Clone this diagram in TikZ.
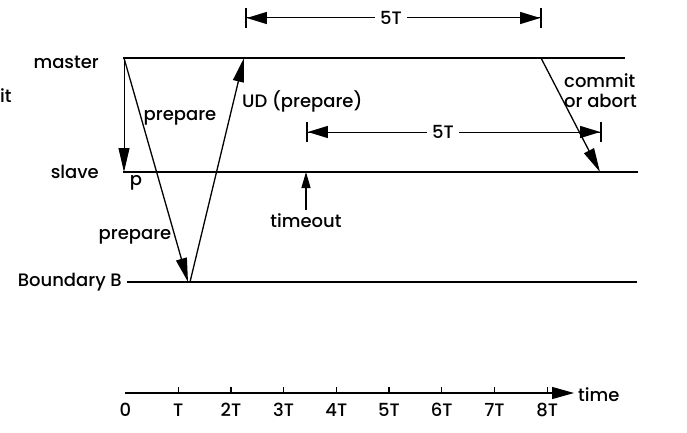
\documentclass[tikz,border=0pt]{standalone}
\usepackage{fontspec}
\setmainfont{Poppins}[UprightFont=* Medium]
\usetikzlibrary{arrows.meta}
\begin{document}
\begin{tikzpicture}[x=1pt,y=-1pt,
  lbl/.style={inner sep=0pt, font=\fontsize{18}{20}\selectfont},
  tline/.style={line width=2.2pt},
  msg/.style={line width=1.3pt, -{Triangle[length=24pt,width=11pt]}},
  dimline/.style={line width=1pt, {Bar[width=20pt,line width=1.8pt]Triangle[length=20pt,width=12pt,sep=0pt]}-{Triangle[length=20pt,width=12pt,sep=0pt]Bar[width=20pt,line width=1.8pt]}},
  dimlbl/.style={lbl, fill=white, inner xsep=5pt, inner ysep=2pt}
]
\useasboundingbox (0,0) rectangle (687,433);
% time lines
\coordinate (m0) at (123,58); \coordinate (m1) at (625,58);
\coordinate (s0) at (123,172); \coordinate (s1) at (638,172);
\coordinate (b0) at (127,282); \coordinate (b1) at (637,282);
\draw[tline] (m0) -- (m1);
\draw[tline] (s0) -- (s1);
\draw[tline] (b0) -- (b1);
% labels of lines
\node[lbl, anchor=west] (it) at (0,96) {it};
\node[lbl, anchor=east] (master) at (99,62) {master};
\node[lbl, anchor=east] (slave) at (99,172) {slave};
\node[lbl, anchor=east] (bound) at (122,282) {Boundary B};
\node[lbl] (p) at (136,183) {p};
% messages
\coordinate (ms) at (124,58);
\coordinate (sp) at (124,172);
\coordinate (bp) at (188,282);
\coordinate (bu) at (190,282);
\coordinate (mu) at (244,58);
\coordinate (mc) at (541,58);
\coordinate (sc) at (600,172);
\coordinate (to) at (306,210);
\coordinate (st) at (306,172);
\draw[msg, line width=0.9pt] (ms) -- (sp);
\draw[msg] (ms) -- (bp);
\draw[msg] (bu) -- (mu);
\draw[msg] (mc) -- (sc);
\draw[msg, -{Triangle[length=16pt,width=9pt]}] (to) -- (st);
\node[lbl] (prep1) at (180,118) {prepare};
\node[lbl] (prep2) at (135,237) {prepare};
\node[lbl, anchor=west] (ud) at (242,101) {UD (prepare)};
\node[lbl] (timeout) at (306,221) {timeout};
\node[lbl, anchor=north west, align=left] (commit) at (564,73) {commit\\or abort};
% dimension lines
\coordinate (d1a) at (245,18); \coordinate (d1b) at (542,18);
\coordinate (d2a) at (306,132); \coordinate (d2b) at (602,132);
\draw[dimline] (d1a) -- (d1b);
\draw[dimline] (d2a) -- (d2b);
\node[dimlbl] (fiveT1) at (391,18) {5T};
\node[dimlbl] (fiveT2) at (443,132) {5T};
% time axis
\coordinate (t0) at (125,393); \coordinate (t1) at (574,393);
\draw[line width=1.2pt, -{Triangle[length=22pt,width=12pt]}] (t0) -- (t1);
\node[lbl, anchor=west] (time) at (578,395) {time};
\foreach \k/\lab in {0/0,1/T,2/2T,3/3T,4/4T,5/5T,6/6T,7/7T,8/8T} {
  \coordinate (tk\k) at ({125.5+52.7*\k},393);
  \ifnum\k>0 \draw[line width=1.2pt] (tk\k) -- ++(0,-6); \fi
  \node[lbl] (tl\k) at ({125.5+52.7*\k},410) {\lab};
}
\end{tikzpicture}
\end{document}
